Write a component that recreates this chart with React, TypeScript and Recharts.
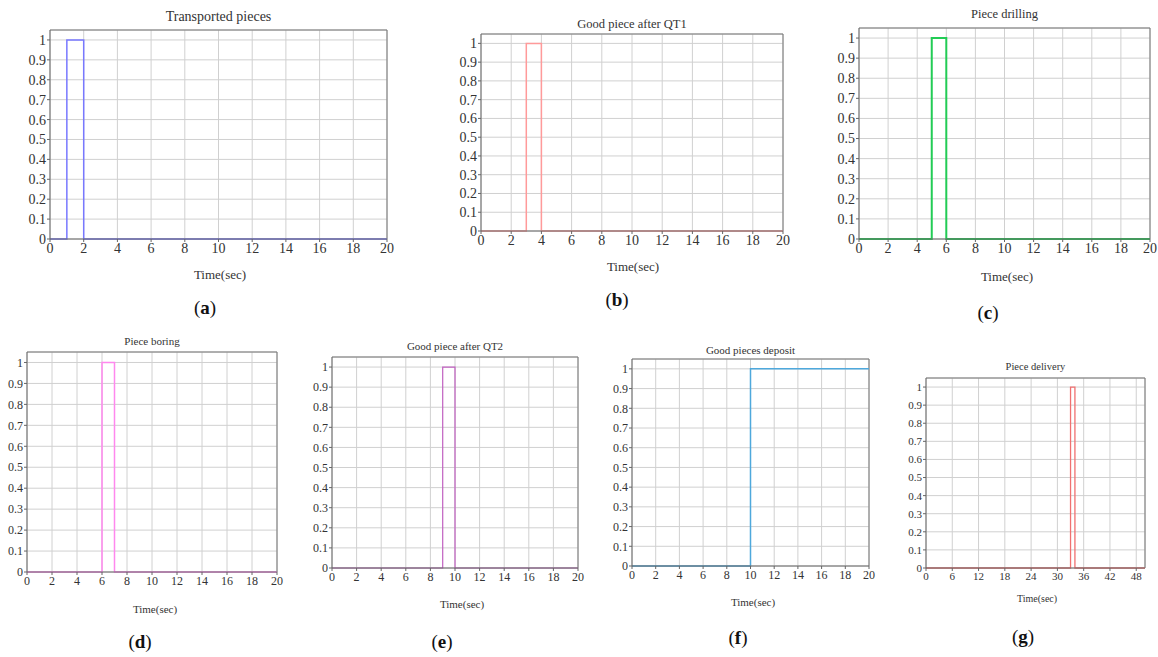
import { LineChart, Line, XAxis, YAxis, CartesianGrid, ReferenceLine } from "recharts"

// step signals (time in sec, value 0/1)
const transportedTime = [0, 1, 2, 20]
const transportedValue = [0, 1, 0, 0]
const qt1Time = [0, 3, 4, 20]
const qt1Value = [0, 1, 0, 0]
const drillingTime = [0, 5, 6, 20]
const drillingValue = [0, 1, 0, 0]
const boringTime = [0, 6, 7, 20]
const boringValue = [0, 1, 0, 0]
const qt2Time = [0, 9, 10, 20]
const qt2Value = [0, 1, 0, 0]
const depositTime = [0, 10, 20]
const depositValue = [0, 1, 1]
const deliveryTime = [0, 33, 34, 50]
const deliveryValue = [0, 1, 0, 0]

const titles = [
  "Transported pieces",
  "Good piece after QT1",
  "Piece drilling",
  "Piece boring",
  "Good piece after QT2",
  "Good pieces deposit",
  "Piece delivery",
]
const letters = ["a", "b", "c", "d", "e", "f", "g"]
const yTicks = [0, 0.1, 0.2, 0.3, 0.4, 0.5, 0.6, 0.7, 0.8, 0.9, 1]
const xTicks20 = [0, 2, 4, 6, 8, 10, 12, 14, 16, 18, 20]
const xTicks50 = [0, 6, 12, 18, 24, 30, 36, 42, 48]

const series = [
  { time: transportedTime, value: transportedValue, xMax: 20, xTicks: xTicks20 },
  { time: qt1Time, value: qt1Value, xMax: 20, xTicks: xTicks20 },
  { time: drillingTime, value: drillingValue, xMax: 20, xTicks: xTicks20 },
  { time: boringTime, value: boringValue, xMax: 20, xTicks: xTicks20 },
  { time: qt2Time, value: qt2Value, xMax: 20, xTicks: xTicks20 },
  { time: depositTime, value: depositValue, xMax: 20, xTicks: xTicks20 },
  { time: deliveryTime, value: deliveryValue, xMax: 50, xTicks: xTicks50 },
]

// plot box in page px (left, top, right, bottom) + where the texts go
const layout = [
  { L: 50, T: 30, R: 387, B: 239, fs: 14, titleY: 17, titleFs: 14, timeY: 275, timeX: 220, letX: 205, letY: 308, color: "#7878ff", sw: 1.5 },
  { L: 481, T: 34, R: 783, B: 231, fs: 14, titleY: 24, titleFs: 12.5, timeY: 267, timeX: 633, letX: 617, letY: 300, color: "#ff9a9a", sw: 1.5 },
  { L: 859, T: 28, R: 1150, B: 239, fs: 14, titleY: 14, titleFs: 12.5, timeY: 277, timeX: 1007, letX: 988, letY: 313, color: "#22cc55", sw: 2 },
  { L: 27, T: 352, R: 277, B: 572, fs: 12, titleY: 342, titleFs: 11, timeY: 610, timeX: 155, letX: 140, letY: 642, color: "#ff88ee", sw: 1.5 },
  { L: 332, T: 357, R: 578, B: 568, fs: 12, titleY: 347, titleFs: 11, timeY: 605, timeX: 462, letX: 442, letY: 642, color: "#c060c0", sw: 1.2 },
  { L: 632, T: 359, R: 869, B: 566, fs: 12, titleY: 351, titleFs: 11, timeY: 603, timeX: 753, letX: 738, letY: 638, color: "#4ea8dc", sw: 1.5 },
  { L: 926, T: 378, R: 1145, B: 568, fs: 11, titleY: 367, titleFs: 10.5, timeY: 600, timeX: 1037, letX: 1023, letY: 637, color: "#f07070", sw: 1.3 },
]

const FONT = "'Liberation Serif', 'DejaVu Serif', serif"
const YW = 34
const XH = 22
const PAD = 4
const PADR = 12

function Panel({ idx }: { idx: number }) {
  const s = series[idx]
  const p = layout[idx]
  const data = s.time.map((t, i) => ({ t, v: s.value[i] }))
  const w = p.R - p.L + YW + PADR
  const h = p.B - p.T + PAD + XH
  const tick = { fontSize: p.fs, fontFamily: FONT, fill: "#333" }
  return (
    <>
      <div style={{ position: "absolute", left: p.L - YW, top: p.T - PAD }}>
        <LineChart width={w} height={h} data={data} margin={{ top: PAD, right: PADR, left: 0, bottom: 0 }}>
          <CartesianGrid stroke="#d0d0d0" strokeWidth={1} />
          <XAxis
            dataKey="t"
            type="number"
            domain={[0, s.xMax]}
            ticks={s.xTicks}
            height={XH}
            tickSize={3}
            tickMargin={1}
            interval={0}
            axisLine={{ stroke: "#666" }}
            tickLine={{ stroke: "#666" }}
            tick={tick}
          />
          <YAxis
            type="number"
            domain={[0, 1.05]}
            ticks={yTicks}
            width={YW}
            tickSize={3}
            tickMargin={1}
            interval={0}
            axisLine={{ stroke: "#666" }}
            tickLine={{ stroke: "#666" }}
            tick={tick}
            tickFormatter={(v: number) => String(Math.round(v * 10) / 10)}
          />
          {/* top and right frame of the plot box */}
          <ReferenceLine y={1.05} stroke="#777" strokeWidth={1} />
          <ReferenceLine x={s.xMax} stroke="#777" strokeWidth={1} />
          <Line
            type="stepAfter"
            dataKey="v"
            stroke={p.color}
            strokeWidth={p.sw}
            dot={false}
            isAnimationActive={false}
          />
        </LineChart>
      </div>
      <div style={{ position: "absolute", left: (p.L + p.R) / 2 - 100, width: 200, top: p.titleY - p.titleFs * 0.6, textAlign: "center", fontFamily: FONT, fontSize: p.titleFs, color: "#333", lineHeight: 1.2 }}>
        {titles[idx]}
      </div>
      <div style={{ position: "absolute", left: p.timeX - 60, width: 120, top: p.timeY - p.fs * 0.6, textAlign: "center", fontFamily: FONT, fontSize: p.fs - 1, color: "#333", lineHeight: 1.2 }}>
        Time(sec)
      </div>
      <div style={{ position: "absolute", left: p.letX - 30, width: 60, top: p.letY - 11, textAlign: "center", fontFamily: FONT, fontSize: 19, color: "#111", lineHeight: 1.2 }}>
        (<b>{letters[idx]}</b>)
      </div>
    </>
  )
}

export default function App() {
  return (
    <div style={{ position: "absolute", left: 0, top: 0, width: 1158, height: 657, background: "#fff", overflow: "hidden" }}>
      {series.map((_, i) => (
        <Panel key={i} idx={i} />
      ))}
    </div>
  )
}
